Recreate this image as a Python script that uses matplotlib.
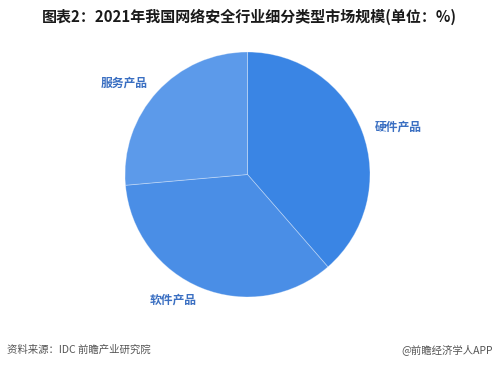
import matplotlib.pyplot as plt

plt.rcParams['font.family'] = ['Noto Sans CJK SC', 'DejaVu Sans']

# 2021 market share by segment (%)
segments = ["硬件产品", "软件产品", "服务产品"]
shares = [38.6, 35.0, 26.4]
colors = ["#3a85e4", "#4a8ee6", "#5c9aea"]

fig = plt.figure(figsize=(4.99, 3.73), dpi=100)
fig.patch.set_facecolor("white")

# pie axes placed so the circle sits where the reference has it
ax = fig.add_axes([125 / 499, 76 / 373, 245 / 499, 245 / 373])
ax.pie(shares, labels=segments, colors=colors, startangle=90, counterclock=False,
       labeldistance=1.11, radius=1,
       wedgeprops=dict(linewidth=0.6, edgecolor=(1, 1, 1, 0.35)),
       textprops=dict(color="#3a6fc2", fontsize=8.5, fontweight="bold"))
ax.set_xlim(-1, 1)
ax.set_ylim(-1, 1)
ax.set_aspect("equal")
ax.axis("off")

fig.text(0.5, 1 - 17 / 373, "图表2：2021年我国网络安全行业细分类型市场规模(单位：%)",
         ha="center", va="center", fontsize=10.8, fontweight="bold", color="#1a1a1a")
fig.text(7 / 499, 1 - 350 / 373, "资料来源：IDC 前瞻产业研究院",
         ha="left", va="center", fontsize=7.5, color="#555555")
fig.text(493 / 499, 1 - 350 / 373, "@前瞻经济学人APP",
         ha="right", va="center", fontsize=7.5, color="#555555")

fig.savefig("out.png", dpi=100)
